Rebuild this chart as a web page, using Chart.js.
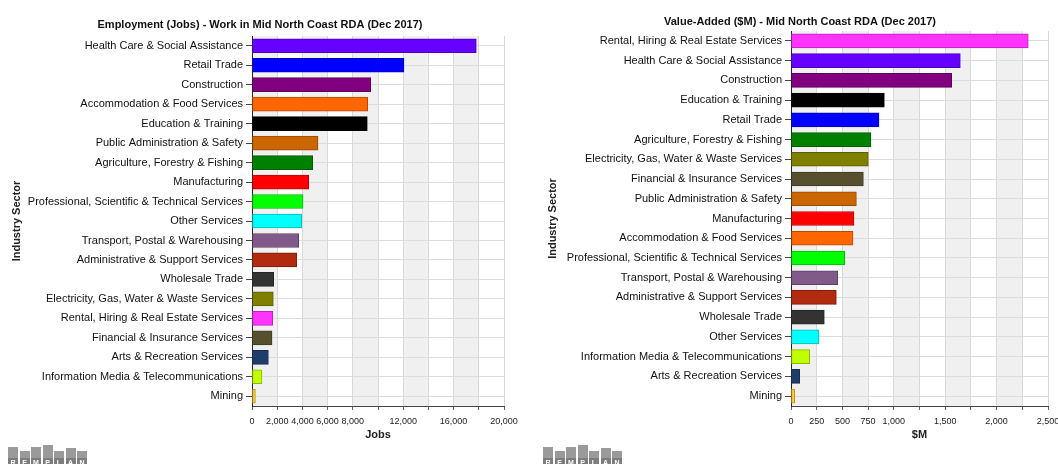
<!DOCTYPE html>
<html>
<head>
<meta charset="utf-8">
<script src="https://cdn.jsdelivr.net/npm/chart.js@4.4.0/dist/chart.umd.min.js"></script>
<style>
  html, body { margin: 0; padding: 0; background: #fff; width: 1058px; height: 464px; overflow: hidden; }
  canvas { position: absolute; top: 0; }
  #jobsChart { left: 0; }
  #vaChart { left: 530px; }
  .logo { position: absolute; top: 443px; display: flex; align-items: flex-end; height: 26px; }
  .logo span {
    width: 10px; margin-right: 1.5px; background: #9a9a9a; color: #fff;
    font: bold 7px "Liberation Sans", Arial, sans-serif; text-align: center;
    display: flex; flex-direction: column; justify-content: flex-end;
  }
  .logo span b { display: block; background: #7d7d7d; height: 11px; line-height: 9px; }
</style>
</head>
<body>
<canvas id="jobsChart" width="530" height="445"></canvas>
<canvas id="vaChart" width="540" height="445"></canvas>
<div class="logo" style="left:8px"><span style="height:22px"><b>R</b></span><span style="height:18px"><b>E</b></span><span style="height:22px"><b>M</b></span><span style="height:24px"><b>P</b></span><span style="height:18px"><b>L</b></span><span style="height:21px"><b>A</b></span><span style="height:18px"><b>N</b></span></div>
<div class="logo" style="left:543px"><span style="height:22px"><b>R</b></span><span style="height:18px"><b>E</b></span><span style="height:22px"><b>M</b></span><span style="height:24px"><b>P</b></span><span style="height:18px"><b>L</b></span><span style="height:21px"><b>A</b></span><span style="height:18px"><b>N</b></span></div>
<script>
// Employment (jobs) by sector
const jobsSectors = [
  "Health Care & Social Assistance",
  "Retail Trade",
  "Construction",
  "Accommodation & Food Services",
  "Education & Training",
  "Public Administration & Safety",
  "Agriculture, Forestry & Fishing",
  "Manufacturing",
  "Professional, Scientific & Technical Services",
  "Other Services",
  "Transport, Postal & Warehousing",
  "Administrative & Support Services",
  "Wholesale Trade",
  "Electricity, Gas, Water & Waste Services",
  "Rental, Hiring & Real Estate Services",
  "Financial & Insurance Services",
  "Arts & Recreation Services",
  "Information Media & Telecommunications",
  "Mining"
];
const jobsValues = [17800, 12060, 9420, 9180, 9150, 5240, 4820, 4500, 4050, 3950, 3710, 3550, 1720, 1690, 1640, 1590, 1300, 790, 270];
const jobsTickLabels = [0, 2000, 4000, 6000, 8000, 12000, 16000, 20000];

// Value-added ($M) by sector
const vaSectors = [
  "Rental, Hiring & Real Estate Services",
  "Health Care & Social Assistance",
  "Construction",
  "Education & Training",
  "Retail Trade",
  "Agriculture, Forestry & Fishing",
  "Electricity, Gas, Water & Waste Services",
  "Financial & Insurance Services",
  "Public Administration & Safety",
  "Manufacturing",
  "Accommodation & Food Services",
  "Professional, Scientific & Technical Services",
  "Transport, Postal & Warehousing",
  "Administrative & Support Services",
  "Wholesale Trade",
  "Other Services",
  "Information Media & Telecommunications",
  "Arts & Recreation Services",
  "Mining"
];
const vaValues = [2308, 1647, 1563, 908, 856, 778, 752, 704, 636, 613, 603, 522, 454, 441, 324, 272, 182, 85, 36];
const vaTickLabels = [0, 250, 500, 750, 1000, 1500, 2000, 2500];

// one colour per sector, same in both charts
const sectorColors = {
  "Health Care & Social Assistance": "#6600ff",
  "Retail Trade": "#0000ff",
  "Construction": "#800080",
  "Accommodation & Food Services": "#ff6600",
  "Education & Training": "#000000",
  "Public Administration & Safety": "#cc6600",
  "Agriculture, Forestry & Fishing": "#008000",
  "Manufacturing": "#ff0000",
  "Professional, Scientific & Technical Services": "#00ff00",
  "Other Services": "#00ffff",
  "Transport, Postal & Warehousing": "#805a88",
  "Administrative & Support Services": "#b22a10",
  "Wholesale Trade": "#333333",
  "Electricity, Gas, Water & Waste Services": "#808000",
  "Rental, Hiring & Real Estate Services": "#ff33ff",
  "Financial & Insurance Services": "#56502f",
  "Arts & Recreation Services": "#1f3d6b",
  "Information Media & Telecommunications": "#bfff00",
  "Mining": "#ffcc33"
};

function darken(hex, f) {
  const n = parseInt(hex.slice(1), 16);
  const r = Math.round(((n >> 16) & 255) * f);
  const g = Math.round(((n >> 8) & 255) * f);
  const b = Math.round((n & 255) * f);
  return `rgb(${r},${g},${b})`;
}

const FONT = '"Liberation Sans", Arial, sans-serif';

// grey bands behind every other x interval
const bandPlugin = {
  id: "bands",
  beforeDraw(chart) {
    const { ctx, chartArea: a, scales: { x } } = chart;
    ctx.save();
    ctx.fillStyle = "#f0f0f0";
    const ticks = x.ticks;
    for (let i = 0; i < ticks.length - 1; i += 2) {
      const x0 = x.getPixelForValue(ticks[i].value);
      const x1 = x.getPixelForValue(ticks[i + 1].value);
      ctx.fillRect(x0, a.top, x1 - x0, a.bottom - a.top);
    }
    ctx.restore();
  }
};

function makeChart(id, cfg) {
  const colors = cfg.labels.map(l => sectorColors[l]);
  return new Chart(document.getElementById(id), {
    type: "bar",
    data: {
      labels: cfg.labels,
      datasets: [{
        data: cfg.values,
        backgroundColor: colors,
        borderColor: colors.map(c => darken(c, 0.72)),
        borderWidth: 1,
        borderSkipped: false,
        barThickness: 14
      }]
    },
    plugins: [bandPlugin],
    options: {
      indexAxis: "y",
      responsive: false,
      animation: false,
      devicePixelRatio: 1,
      layout: { padding: { left: cfg.padLeft, right: cfg.padRight } },
      plugins: {
        legend: { display: false },
        tooltip: { enabled: false },
        title: {
          display: true,
          text: cfg.title,
          color: "#111",
          font: { family: FONT, size: 11, weight: "bold" },
          padding: cfg.titlePad
        }
      },
      scales: {
        x: {
          type: "linear",
          min: 0,
          max: cfg.max,
          grid: { color: "#d8d8d8", tickLength: 4, tickColor: "#666" },
          border: { color: "#444" },
          ticks: {
            stepSize: cfg.step,
            autoSkip: false,
            maxRotation: 0,
            padding: 6,
            color: "#222",
            font: { family: FONT, size: 9 },
            callback: v => cfg.tickLabels.includes(v) ? v.toLocaleString("en-US") : ""
          },
          title: {
            display: true,
            text: cfg.xTitle,
            color: "#222",
            font: { family: FONT, size: 11, weight: "bold" },
            padding: { top: 0, bottom: 3 }
          },
          afterFit: s => { s.height = 39; }
        },
        y: {
          type: "category",
          grid: { offset: false, color: "#dcdcdc", tickLength: 6, tickColor: "#444" },
          border: { color: "#222" },
          ticks: {
            padding: 3,
            color: "#111",
            font: { family: FONT, size: 11 }
          },
          title: {
            display: true,
            text: "Industry Sector",
            color: "#222",
            font: { family: FONT, size: 11, weight: "bold" },
            padding: { top: cfg.yTitleOffset, bottom: 0 }
          },
          afterFit: s => { s.width = cfg.yWidth; }
        }
      }
    }
  });
}

makeChart("jobsChart", {
  labels: jobsSectors,
  values: jobsValues,
  tickLabels: jobsTickLabels,
  title: "Employment (Jobs) - Work in Mid North Coast RDA (Dec 2017)",
  xTitle: "Jobs",
  max: 20000,
  step: 2000,
  padLeft: 16,
  padRight: 26,
  yWidth: 236,
  yTitleOffset: -5.6,
  titlePad: { top: 18.4, bottom: 4.4 }
});

makeChart("vaChart", {
  labels: vaSectors,
  values: vaValues,
  tickLabels: vaTickLabels,
  title: "Value-Added ($M) - Mid North Coast RDA (Dec 2017)",
  xTitle: "$M",
  max: 2500,
  step: 250,
  padLeft: 22,
  padRight: 22,
  yWidth: 239,
  yTitleOffset: -5.6,
  titlePad: { top: 15.4, bottom: 2.4 }
});
</script>
</body>
</html>
